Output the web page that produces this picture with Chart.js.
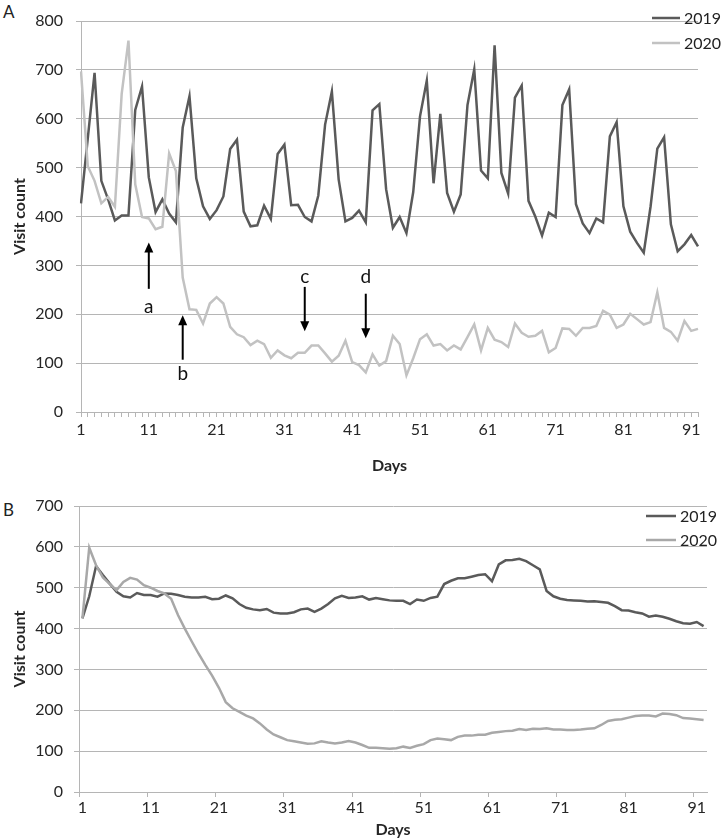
<!DOCTYPE html>
<html>
<head>
<meta charset="utf-8">
<script src="https://cdn.jsdelivr.net/npm/chart.js@4.4.1/dist/chart.umd.min.js"></script>
<style>
    body { margin: 0; background: #fff; font-family: Lato, sans-serif; }
    .wrap { position: relative; width: 724px; height: 839px; overflow: hidden; }
    .panel { position: absolute; left: 0; }
    .tag { position: absolute; left: 3px; font-size: 17px; color: #222; }
</style>
</head>
<body>
<div class="wrap">
    <div class="tag" style="top:1px">A</div>
    <div class="panel" style="top:0"><canvas id="chartA" width="724" height="480"></canvas></div>
    <div class="tag" style="top:499px">B</div>
    <div class="panel" style="top:480px"><canvas id="chartB" width="724" height="359"></canvas></div>
</div>
<script>
// Days 1..92 on the x axis
const days = Array.from({ length: 92 }, (_, i) => String(i + 1));

// Panel A - daily visits
const dailyVisits2019 = [
    427, 560, 694, 473, 435, 392, 402, 402, 618, 666,
    480, 409, 435, 406, 388, 582, 646, 478, 421, 395,
    413, 441, 538, 557, 410, 380, 382, 422, 395, 528,
    547, 423, 424, 399, 390, 443, 588, 656, 476, 390,
    397, 412, 388, 617, 630, 456, 377, 399, 366, 450,
    605, 678, 468, 610, 448, 410, 445, 628, 701, 494,
    478, 750, 489, 447, 643, 668, 432, 400, 361, 408,
    399, 628, 660, 425, 386, 366, 396, 388, 564, 593,
    421, 369, 346, 326, 420, 539, 562, 384, 329, 343,
    362, 339
];
const dailyVisits2020 = [
    697, 503, 473, 427, 440, 420, 651, 760, 466, 399,
    396, 374, 379, 529, 493, 275, 210, 209, 181, 222,
    235, 222, 174, 159, 153, 137, 146, 139, 111, 126,
    116, 110, 121, 121, 136, 136, 120, 103, 115, 146,
    102, 96, 81, 118, 95, 104, 156, 139, 75, 110,
    149, 159, 136, 139, 126, 136, 128, 153, 179, 126,
    172, 148, 143, 133, 181, 162, 154, 156, 166, 122,
    131, 171, 170, 156, 172, 172, 176, 207, 199, 172,
    179, 201, 190, 179, 184, 245, 172, 164, 146, 186,
    166, 170
];

// Panel B - smoothed visits
const smoothVisits2019 = [
    425, 479, 553, 531, 510, 490, 479, 476, 487, 482,
    482, 478, 486, 485, 482, 478, 476, 476, 478, 472,
    473, 481, 474, 460, 451, 447, 445, 448, 439, 437,
    437, 440, 447, 449, 441, 449, 460, 474, 480, 475,
    476, 479, 471, 475, 472, 469, 468, 468, 460, 471,
    468, 475, 478, 509, 517, 523, 523, 527, 531, 533,
    516, 557, 567, 568, 571, 565, 555, 545, 492, 479,
    473, 470, 469, 468, 466, 467, 465, 463, 455, 445,
    444, 440, 437, 429, 432, 429, 424, 418, 413, 412,
    416, 406
];
const smoothVisits2020 = [
    425, 598, 555, 525, 509, 494, 514, 524, 520, 506,
    500, 492, 486, 473, 433, 400, 369, 339, 311, 285,
    255, 220, 205, 196, 187, 180, 168, 153, 141, 134,
    127, 124, 121, 118, 119, 124, 121, 119, 121, 125,
    121, 115, 108, 108, 107, 106, 107, 111, 108, 113,
    117, 127, 131, 129, 127, 135, 138, 138, 140, 140,
    145, 147, 149, 150, 154, 152, 155, 154, 156, 153,
    153, 152, 152, 153, 155, 156, 164, 174, 177, 178,
    182, 186, 187, 187, 185, 192, 191, 188, 181, 180,
    178, 176
];

// Arrows on panel A (day, arrow tail/head and letter position in visit counts)
const arrowNotes = [
    { text: 'a', day: 11, tail: 252, head: 347, at: 216 },
    { text: 'b', day: 16, tail: 107, head: 198, at: 77 },
    { text: 'c', day: 34, tail: 256, head: 165, at: 276 },
    { text: 'd', day: 43, tail: 242, head: 151, at: 276 }
];

const yTicksA = [0, 800];
const yTicksB = [0, 700];

Chart.defaults.font.family = 'Lato';
Chart.defaults.color = '#262626';

const dark = '#5a5a5a';
const gridGray = '#b5b5b5';

// legend drawn in the top right corner, overlapping the plot like the original
function cornerLegend(pos) {
    return {
        id: 'cornerLegend',
        afterDraw(chart) {
            const ctx = chart.ctx;
            ctx.save();
            ctx.font = '16px Lato';
            ctx.textBaseline = 'middle';
            chart.data.datasets.forEach((ds, i) => {
                const y = pos.y + i * pos.gap;
                ctx.strokeStyle = ds.borderColor;
                ctx.lineWidth = 2.5;
                ctx.beginPath();
                ctx.moveTo(pos.x, y);
                ctx.lineTo(pos.x + pos.len, y);
                ctx.stroke();
                ctx.fillStyle = '#222';
                ctx.fillText(ds.label, pos.x + pos.len + 4, y + 1);
            });
            ctx.restore();
        }
    };
}

// arrows a-d, placed through the chart scales
function arrowPlugin(notes) {
    return {
        id: 'arrowNotes',
        afterDatasetsDraw(chart) {
            const { ctx, scales: { x, y } } = chart;
            ctx.save();
            ctx.strokeStyle = '#000';
            ctx.fillStyle = '#000';
            ctx.lineWidth = 2;
            notes.forEach(n => {
                const px = x.getPixelForValue(n.day - 1);
                const y0 = y.getPixelForValue(n.tail);
                const y1 = y.getPixelForValue(n.head);
                const dir = y1 < y0 ? -1 : 1;
                ctx.beginPath();
                ctx.moveTo(px, y0);
                ctx.lineTo(px, y1 - dir * 8);
                ctx.stroke();
                ctx.beginPath();
                ctx.moveTo(px, y1);
                ctx.lineTo(px - 4.5, y1 - dir * 10);
                ctx.lineTo(px + 4.5, y1 - dir * 10);
                ctx.closePath();
                ctx.fill();
                ctx.font = '19px Lato';
                ctx.textAlign = 'center';
                ctx.textBaseline = 'middle';
                ctx.fillStyle = '#111';
                ctx.fillText(n.text, px, y.getPixelForValue(n.at));
                ctx.fillStyle = '#000';
            });
            ctx.restore();
        }
    };
}

function makePanel(id, p) {
    const plugins = [cornerLegend(p.legend)];
    if (p.notes) plugins.push(arrowPlugin(p.notes));

    return new Chart(document.getElementById(id), {
        type: 'line',
        data: {
            labels: days,
            datasets: [{
                label: '2019',
                data: p.s2019,
                borderColor: dark,
                borderWidth: 2.5,
                pointRadius: 0,
                tension: 0,
                order: 1
            }, {
                label: '2020',
                data: p.s2020,
                borderColor: p.light,
                borderWidth: 2.5,
                pointRadius: 0,
                tension: 0,
                order: 0
            }]
        },
        options: {
            responsive: false,
            animation: false,
            devicePixelRatio: 1,
            layout: { padding: p.padding },
            plugins: {
                legend: { display: false },
                tooltip: { enabled: false }
            },
            scales: {
                x: {
                    type: 'category',
                    offset: p.offset,
                    grid: {
                        offset: p.offset,
                        drawOnChartArea: false,
                        drawTicks: true,
                        tickLength: 5,
                        color: p.everyTick ? gridGray : (c => c.index % 10 === 0 ? gridGray : 'rgba(0,0,0,0)')
                    },
                    border: { color: gridGray },
                    ticks: {
                        autoSkip: false,
                        maxRotation: 0,
                        padding: p.xPad,
                        font: { size: 16, lineHeight: 1 },
                        callback: (v, i) => (i % 10 === 0 ? days[i] : '')
                    },
                    title: {
                        display: true,
                        text: 'Days',
                        font: { size: 16, weight: 'bold' },
                        padding: { top: 0, bottom: p.daysPad }
                    },
                    afterFit: s => { s.height = p.xHeight; }
                },
                y: {
                    min: p.yTicks[0],
                    max: p.yTicks[1],
                    grid: { color: gridGray, tickLength: 5 },
                    border: { color: gridGray },
                    ticks: {
                        stepSize: 100,
                        padding: p.yPad,
                        font: { size: 16, lineHeight: 1 }
                    },
                    title: {
                        display: true,
                        text: 'Visit count',
                        font: { size: 16, weight: 'bold' },
                        padding: { top: 10, bottom: 0 }
                    },
                    afterFit: s => { s.width = p.yWidth; }
                }
            }
        },
        plugins: plugins
    });
}

makePanel('chartA', {
    s2019: dailyVisits2019,
    s2020: dailyVisits2020,
    light: '#c2c2c2',
    yTicks: yTicksA,
    offset: false,
    everyTick: true,
    padding: { top: 8, right: 26, bottom: 0, left: 0 },
    xHeight: 68,
    yWidth: 81,
    xPad: 5,
    yPad: 13,
    daysPad: 5,
    legend: { x: 652, y: 18, gap: 25, len: 28 },
    notes: arrowNotes
});

makePanel('chartB', {
    s2019: smoothVisits2019,
    s2020: smoothVisits2020,
    light: '#a8a8a8',
    yTicks: yTicksB,
    offset: true,
    everyTick: false,
    padding: { top: 26, right: 17, bottom: 0, left: 0 },
    xHeight: 47,
    yWidth: 79,
    xPad: 3,
    yPad: 11,
    daysPad: 0,
    legend: { x: 646, y: 36, gap: 24, len: 30 }
});
</script>
</body>
</html>
